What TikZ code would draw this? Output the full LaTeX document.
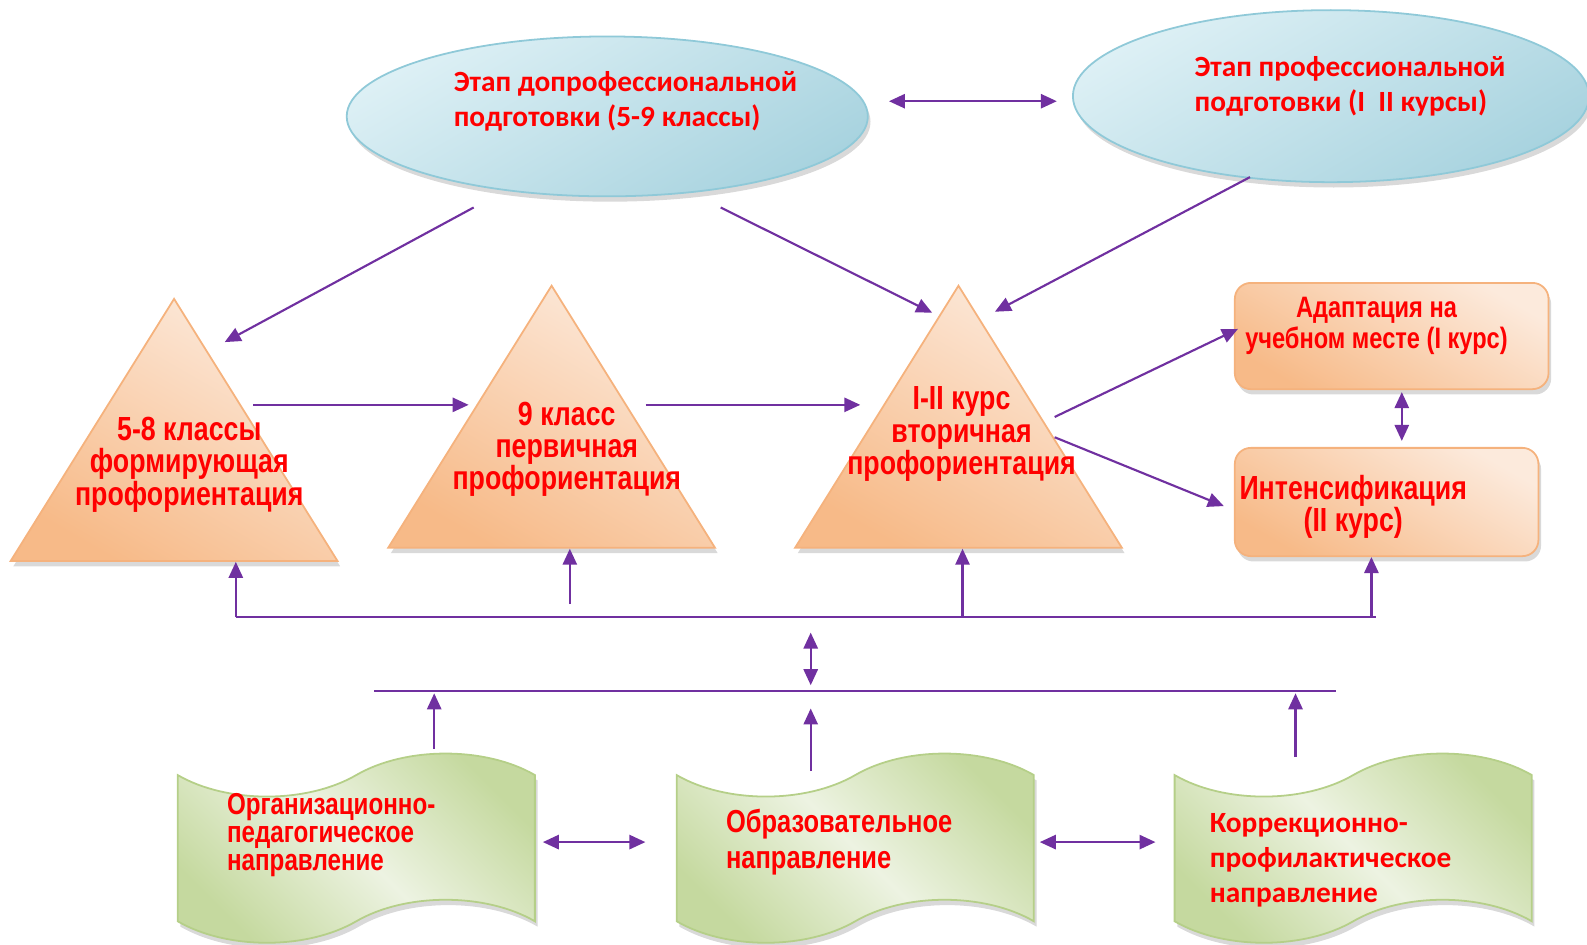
\documentclass[tikz,border=0pt]{standalone}
\usepackage{fontspec}
\setmainfont{Carlito}
\newfontfamily\narrowfont[FakeStretch=0.8]{Liberation Sans}
\usetikzlibrary{shapes.geometric,shapes.symbols,shadows,arrows.meta,calc}
\definecolor{linkviolet}{HTML}{7030A0}
\definecolor{labelred}{HTML}{FF0000}
\definecolor{stagelight}{HTML}{DDF0F5}
\definecolor{stagedark}{HTML}{A8D3DF}
\definecolor{stageedge}{HTML}{8FC9D8}
\definecolor{peachlight}{HTML}{FCEADC}
\definecolor{peachdark}{HTML}{F7BA88}
\definecolor{peachedge}{HTML}{F5B27D}
\definecolor{greenlight}{HTML}{EDF3E2}
\definecolor{greendark}{HTML}{C5D99F}
\definecolor{greenedge}{HTML}{B5CF88}

\begin{document}
\begin{tikzpicture}[x=0.02cm, y=-0.02cm]
\tikzset{
  softshadow/.style={drop shadow={shadow xshift=1.5pt, shadow yshift=-3pt, opacity=.3}},
  stage/.style={ellipse, draw=stageedge, line width=1pt, top color=stagelight, bottom color=stagedark, shading angle=30, softshadow},
  pyramid/.style={isosceles triangle, isosceles triangle stretches, shape border rotate=90, minimum width=6.46cm, minimum height=5.18cm, draw=peachedge, line width=1pt, top color=peachlight, bottom color=peachdark, shading angle=-30, softshadow},
  block/.style={rectangle, rounded corners=9pt, draw=peachedge, line width=1pt, top color=peachlight, bottom color=peachdark, shading angle=-30, softshadow},
  branch/.style={tape, tape bend top=in and out, tape bend bottom=in and out, tape bend height=0.85cm, minimum width=7.06cm, minimum height=3.74cm, draw=greenedge, line width=1pt, top color=greendark, bottom color=greendark, middle color=greenlight, shading angle=-45, softshadow},
  captext/.style={text=labelred, font=\fontsize{16.5}{19.8}\selectfont\bfseries, align=left, inner sep=0pt},
  narrowtext/.style={text=labelred, font=\narrowfont\fontsize{18.8}{18.2}\selectfont\bfseries, align=center, inner sep=0pt},
  link/.style={draw=linkviolet, line width=1.2pt},
  flow/.style={link, -{Triangle[length=9pt,width=8pt]}},
  twoway/.style={link, {Triangle[length=9pt,width=8pt]}-{Triangle[length=9pt,width=8pt]}}
}
\useasboundingbox (0,0) rectangle (1568,933);

% stages
\node[stage, minimum width=10.3cm, minimum height=3.16cm] (e1) at (600,115) {};
\node[stage, minimum width=10.2cm, minimum height=3.4cm] (e2) at (1315,95) {};
\node[captext, anchor=west] (e1t) at (448,100) {Этап допрофессиональной\\подготовки (5-9 классы)};
\node[captext, anchor=west] (e2t) at (1180,85) {Этап профессиональной\\подготовки (I\ \ II курсы)};

% pyramids
\node[pyramid, anchor=apex] (tri1) at (172,293) {};
\node[pyramid, anchor=apex] (tri2) at (545,280) {};
\node[pyramid, anchor=apex] (tri3) at (947,280) {};
\node[narrowtext] (t1) at (187,459) {5-8 классы\\формирующая\\профориентация};
\node[narrowtext] (t2) at (560,444) {9 класс\\первичная\\профориентация};
\node[narrowtext] (t3) at (950,429) {I-II курс\\вторичная\\профориентация};

% blocks on the right
\node[block, minimum width=6.2cm, minimum height=2.1cm] (adapt) at (1375,332) {};
\node[block, minimum width=6cm, minimum height=2.14cm] (intens) at (1370,496) {};
\node[narrowtext, font=\narrowfont\fontsize{16.6}{17.6}\selectfont\bfseries] (adaptt) at (1360,322) {Адаптация на\\учебном месте (I курс)};
\node[narrowtext] (intenst) at (1337,501) {Интенсификация\\(II курс)};

% directions
\node[branch] (w1) at (352,838) {};
\node[branch] (w2) at (845,838) {};
\node[branch] (w3) at (1337,838) {};
\node[narrowtext, align=left, anchor=west, font=\narrowfont\fontsize{17}{15.9}\selectfont\bfseries] (w1t) at (224,825) {Организационно-\\педагогическое\\направление};
\node[narrowtext, align=left, anchor=west, font=\narrowfont\fontsize{17.9}{19.8}\selectfont\bfseries] (w2t) at (717,832) {Образовательное\\направление};
\node[captext, anchor=west] (w3t) at (1195,850) {Коррекционно-\\профилактическое\\направление};

% connectors at the top
\draw[twoway] ($(e1.east)+(20,-15)$) -- ($(e2.west)+(-15,5)$);
\draw[flow] ($(e1)+(-132,90)$) -- ($(tri1.apex)+(50,45)$);
\draw[flow] ($(e1)+(112,90)$) -- ($(tri3.apex)+(-26,29)$);
\draw[flow] ($(e2)+(-80,80)$) -- ($(tri3.apex)+(36,28)$);
\draw[flow] ($(tri1.apex)+(78,107)$) -- ($(tri2.apex)+(-82,120)$);
\draw[flow] ($(tri2.apex)+(93,120)$) -- ($(tri3.apex)+(-97,120)$);
\draw[flow] ($(tri3.apex)+(95,132)$) -- ($(adapt.west)+(4,-7)$);
\draw[flow] ($(tri3.apex)+(95,152)$) -- ($(intens.west)+(-10,4)$);
\draw[twoway] ($(adapt.south)+(10,2)$) -- ($(intens.north)+(15,-6)$);

% feedback line
\coordinate (busA) at (233,610);
\coordinate (busB) at (1360,610);
\coordinate (busC) at (951,610);
\coordinate (busD) at (1355,610);
\coordinate (busE) at (563,597);
\draw[link] (busA) -- (busB);
\draw[flow] (busA) -- (busA |- tri1.south);
\draw[flow] (busE) -- (busE |- tri2.south);
\draw[flow] (busC) -- (busC |- tri3.south);
\draw[flow] (busD) -- (busD |- intens.south);

% lower line
\coordinate (lowA) at (370,683);
\coordinate (lowB) at (1320,683);
\coordinate (midA) at (801,625);
\coordinate (midB) at (801,677);
\draw[link] (lowA) -- (lowB);
\draw[twoway] (midA) -- (midB);
\draw[flow] ($(w1)+(77,-98)$) -- ($(w1)+(77,-153)$);
\draw[flow] ($(w2)+(-44,-76)$) -- ($(w2)+(-44,-138)$);
\draw[flow] ($(w3)+(-57,-90)$) -- ($(w3)+(-57,-153)$);
\draw[twoway] ($(w1.east)+(7,-6)$) -- ($(w2.west)+(-30,-6)$);
\draw[twoway] ($(w2.east)+(5,-6)$) -- ($(w3.west)+(-18,-6)$);
\end{tikzpicture}
\end{document}
